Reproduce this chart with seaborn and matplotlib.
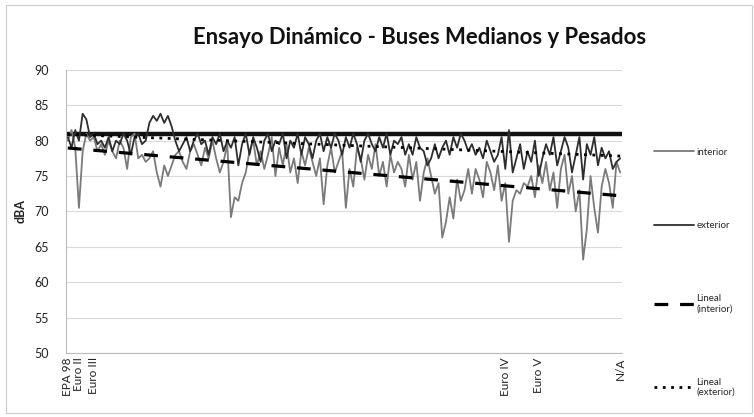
import numpy as np
import pandas as pd
import matplotlib

matplotlib.use('Agg')
import matplotlib.pyplot as plt
from matplotlib.patches import Rectangle
import seaborn as sns

# dBA values, one per bus tested
interior = [
    80.0, 81.5, 79.0, 70.5, 78.5, 81.0, 80.0, 80.5, 78.5, 79.5,
    78.0, 80.0, 78.5, 77.5, 80.0, 79.0, 76.0, 80.5, 81.0, 77.5,
    78.0, 77.0, 77.5, 78.5, 75.5, 73.5, 76.5, 75.0, 76.5, 78.0,
    78.5, 77.0, 76.0, 78.5, 79.5, 78.0, 76.5, 79.0, 77.5, 80.0,
    77.5, 75.5, 77.0, 79.5, 69.2, 72.0, 71.5, 74.0, 75.5, 78.5,
    80.0, 76.5, 78.5, 76.0, 78.0, 80.5, 75.0, 79.0, 76.5, 79.5,
    75.5, 77.5, 74.0, 78.5, 76.5, 79.0, 77.0, 75.0, 77.5, 71.0,
    76.5, 79.0, 75.5, 77.0, 78.5, 70.5, 76.0, 73.5, 79.0, 77.5,
    74.5, 78.0, 76.0, 79.5, 75.0, 77.0, 73.5, 78.0, 75.5, 77.0,
    76.0, 73.5, 78.0, 74.5, 77.0, 71.5, 75.5, 77.5, 75.0, 72.5,
    74.0, 66.3, 68.5, 72.0, 69.0, 74.5, 71.5, 73.0, 76.0, 72.5,
    76.0, 74.5, 72.0, 77.0, 75.5, 73.0, 76.5, 71.5, 74.0, 65.7,
    71.5, 73.0, 72.5, 74.0, 73.5, 75.0, 72.0, 76.5, 74.0, 77.0,
    73.0, 75.5, 70.5, 76.0, 78.0, 72.5, 75.0, 70.0, 73.0, 63.2,
    67.5, 75.0, 70.5, 67.0, 73.5, 76.0, 74.0, 70.5, 77.0, 75.5,
]
exterior = [
    80.5, 79.0, 81.5, 80.0, 83.8, 83.0, 80.5, 81.0, 79.5, 80.0,
    79.0, 80.5, 78.5, 80.0, 79.5, 81.0, 80.0, 78.0, 80.5, 81.0,
    79.5, 80.0, 82.5, 83.5, 82.8, 83.8, 82.5, 83.5, 82.0, 80.0,
    78.5, 79.5, 80.5, 78.5, 80.0, 81.0, 79.5, 80.0, 78.0, 80.5,
    79.5, 81.0, 78.5, 80.0, 79.0, 80.5, 76.5, 79.5, 81.0, 78.0,
    80.5, 79.0, 77.0, 80.0, 81.0, 78.5, 80.0, 79.5, 81.0, 77.5,
    80.0, 79.0, 81.0, 78.0, 80.5, 79.5, 77.5, 80.0, 81.0, 78.5,
    80.5, 79.0, 81.0, 80.0, 78.0, 80.5, 79.0, 81.0, 79.5, 77.0,
    80.0, 81.0, 79.5, 78.5, 80.5, 79.0, 81.0, 78.0, 80.0, 79.5,
    80.5, 78.0, 79.5, 78.0, 80.5, 79.0, 78.5, 76.5, 77.5, 79.5,
    77.5, 79.0, 80.0, 78.0, 80.5, 79.0, 81.0, 80.0, 78.5, 79.5,
    78.0, 79.0, 77.5, 80.0, 78.5, 77.0, 78.0, 80.5, 76.0, 81.5,
    75.5, 77.5, 79.5, 76.0, 78.5, 77.0, 80.0, 75.0, 77.5, 79.5,
    78.0, 80.5, 76.5, 78.5, 80.5, 79.0, 75.5, 78.0, 80.5, 74.5,
    79.5, 78.0, 80.5, 76.5, 79.0, 77.5, 78.5, 76.0, 77.0, 77.5,
]
tick_pos = [0, 3, 7, 118, 127, 149]
tick_labels = ['EPA 98', 'Euro II', 'Euro III', 'Euro IV', 'Euro V', 'N/A']
limit = 81

sns.set_theme(style='white')
plt.rcParams['font.family'] = ['Lato', 'DejaVu Sans']

fig = plt.figure(figsize=(7.54, 4.17), dpi=100)
ax = fig.add_axes([0.0875, 0.1535, 0.7375, 0.679])

x = np.arange(len(interior))
df = pd.DataFrame({'x': x, 'interior': interior, 'exterior': exterior})

ax.axhline(limit, color='#111111', lw=3.2, zorder=1)
sns.lineplot(data=df, x='x', y='interior', color='#7a7a7a', lw=1.3, ax=ax, label='interior')
sns.lineplot(data=df, x='x', y='exterior', color='#2e2e2e', lw=1.3, ax=ax, label='exterior')

# linear trend lines (like Excel's "Lineal")
fi = np.polyfit(x, interior, 1)
fe = np.polyfit(x, exterior, 1)
ax.plot(x, np.polyval(fi, x), color='black', lw=2.3, dashes=(4.3, 3.7), label='Lineal\n(interior)')
ax.plot(x, np.polyval(fe, x), color='black', lw=2, dashes=(1, 2), label='Lineal\n(exterior)')

ax.set_xlim(-0.5, len(interior) - 0.5)
ax.set_ylim(50, 90)
ax.set_yticks(range(50, 91, 5))
ax.set_xticks(tick_pos)
ax.set_xticklabels(tick_labels, rotation=90, fontsize=8.5, color='#222222')
ax.tick_params(axis='y', labelsize=9, colors='#222222', length=0, pad=12)
ax.tick_params(axis='x', length=0, pad=3)
ax.grid(axis='y', color='#dadada', lw=0.8)
ax.set_axisbelow(True)
ax.set_xlabel('')
ax.set_ylabel('dBA', fontsize=9, fontweight='bold', color='#222222', labelpad=6)
for s in ['top', 'right']:
    ax.spines[s].set_visible(False)
for s in ['left', 'bottom']:
    ax.spines[s].set_color('#bbbbbb')
    ax.spines[s].set_linewidth(0.8)

handles, labels = ax.get_legend_handles_labels()
ax.get_legend().remove()
fig.legend(handles, labels, loc='upper left', bbox_to_anchor=(0.862, 0.655),
           frameon=False, fontsize=7, labelspacing=6.6, handlelength=4.1,
           handletextpad=0.3, borderaxespad=0)

fig.text(0.556, 0.91, 'Ensayo Dinámico - Buses Medianos y Pesados',
         ha='center', va='center', fontsize=15.9, fontweight='bold', color='#111111')
fig.patches.append(Rectangle((0.008, 0.01), 0.99, 0.978, transform=fig.transFigure,
                             fill=False, ec='#cccccc', lw=0.8))

fig.savefig('out.png', dpi=100)
